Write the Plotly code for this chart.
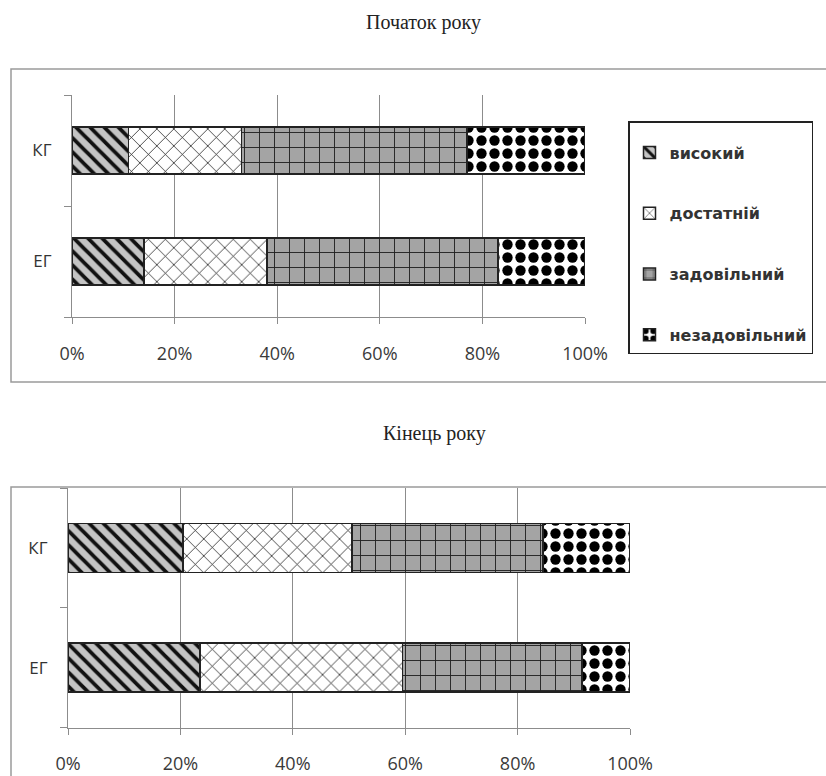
import plotly.graph_objects as go

groups = ["ЕГ", "КГ"]
levels = ["високий", "достатній", "задовільний", "незадовільний"]

# Початок року (top chart), values in % for [ЕГ, КГ]
start_high = [14, 11]
start_enough = [24, 22]
start_satisf = [45, 44]
start_unsat = [17, 23]

# Кінець року (bottom chart)
end_high = [23.5, 20.5]
end_enough = [36, 30]
end_satisf = [32, 34]
end_unsat = [8.5, 15.5]

x_ticks = [0, 20, 40, 60, 80, 100]
x_ticklabels = ["0%", "20%", "40%", "60%", "80%", "100%"]

styles = [
    dict(color="#c4c4c4", pattern=dict(shape="\\", fgcolor="#111111", fgopacity=1, size=10, solidity=0.38, fillmode="overlay")),
    dict(color="#ffffff", pattern=dict(shape="x", fgcolor="#111111", fgopacity=1, size=12, solidity=0.12, fillmode="overlay")),
    dict(color="#a4a4a4", pattern=dict(shape="+", fgcolor="#222222", fgopacity=1, size=15, solidity=0.12, fillmode="overlay")),
    dict(color="#ffffff", pattern=dict(shape=".", fgcolor="#000000", fgopacity=1, size=13, solidity=0.5, fillmode="overlay")),
]

fig = go.Figure()
start_sets = [start_high, start_enough, start_satisf, start_unsat]
end_sets = [end_high, end_enough, end_satisf, end_unsat]
for i, name in enumerate(levels):
    fig.add_trace(go.Bar(
        y=groups, x=start_sets[i], orientation="h", name=name, width=0.42,
        marker=dict(color=styles[i]["color"], pattern=styles[i]["pattern"],
                    line=dict(color="#222222", width=1.5)),
        xaxis="x", yaxis="y", legendgroup=name, showlegend=True,
    ))
for i, name in enumerate(levels):
    fig.add_trace(go.Bar(
        y=groups, x=end_sets[i], orientation="h", name=name, width=0.41,
        marker=dict(color=styles[i]["color"], pattern=styles[i]["pattern"],
                    line=dict(color="#222222", width=1.5)),
        xaxis="x2", yaxis="y2", legendgroup=name, showlegend=False,
    ))

tickfont = dict(family="Open Sans", size=18, color="#3a3a3a")
xcommon = dict(range=[0, 100], tickvals=x_ticks, ticktext=x_ticklabels,
               showgrid=False, showline=True, linecolor="#8c8c8c", linewidth=1.2,
               ticks="outside", ticklen=6, tickcolor="#8c8c8c", tickfont=tickfont,
               ticklabelstandoff=14, zeroline=False, fixedrange=True, automargin=False,
               minor=dict(tickmode="array", tickvals=[20, 40, 60, 80], showgrid=True,
                          gridcolor="#8c8c8c", gridwidth=1, ticks=""))
ycommon = dict(range=[-0.5, 1.5], showgrid=False, showline=True, linecolor="#8c8c8c",
               linewidth=1.2, ticks="outside", ticklen=7, tickcolor="#8c8c8c",
               tickson="boundaries", tickfont=dict(family="Open Sans", size=17, color="#333333"),
               ticklabelstandoff=16, zeroline=False, fixedrange=True, automargin=False)

fig.update_layout(
    width=826, height=776,
    margin=dict(l=0, r=0, t=0, b=0, autoexpand=False),
    paper_bgcolor="white", plot_bgcolor="rgba(0,0,0,0)",
    barmode="stack", bargap=0.5,
    xaxis=dict(domain=[72/826, 585/826], anchor="y", **xcommon),
    yaxis=dict(domain=[1-317/776, 1-95/776], anchor="x", **ycommon),
    xaxis2=dict(domain=[68/826, 630/826], anchor="y2", **xcommon),
    yaxis2=dict(domain=[1-727.5/776, 1-488/776], anchor="x2", **ycommon),
    legend=dict(x=628/826, y=1-121/776, xanchor="left", yanchor="top",
                bordercolor="#222222", borderwidth=1.5, bgcolor="white",
                font=dict(family="DejaVu Sans", size=16, color="#333333", weight="bold"),
                title=dict(text=" ", font=dict(size=10)),
                tracegroupgap=37, traceorder="grouped", itemwidth=30),
    showlegend=True,
    annotations=[
        dict(text="Початок року", x=423/826, y=1-22/776, xref="paper", yref="paper",
             xanchor="center", yanchor="middle",
             showarrow=False, font=dict(family="Liberation Serif", size=20, color="#222222")),
        dict(text="Кінець року", x=434/826, y=1-433/776, xref="paper", yref="paper",
             xanchor="center", yanchor="middle",
             showarrow=False, font=dict(family="Liberation Serif", size=20, color="#222222")),
    ],
    shapes=[
        dict(type="rect", xref="paper", yref="paper", x0=11/826, x1=1.01, y0=1-382/776, y1=1-69/776,
             line=dict(color="#9a9a9a", width=1.5), layer="below"),
        dict(type="rect", xref="paper", yref="paper", x0=11/826, x1=1.01, y0=-0.05, y1=1-487/776,
             line=dict(color="#9a9a9a", width=1.5), layer="below"),
    ],
)

fig.write_html("out.html", config={"displayModeBar": False},
               post_script="document.body.style.margin='0';document.body.style.overflow='hidden';")
